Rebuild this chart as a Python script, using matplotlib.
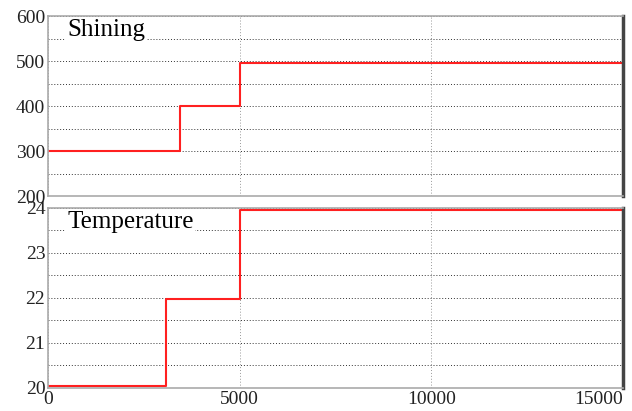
import numpy as np
import matplotlib.pyplot as plt

# step data
shine_t = [0, 3450, 3450, 5000, 5000, 15000]
shine_v = [300, 300, 400, 400, 496, 496]
temp_t = [0, 3080, 3080, 5000, 5000, 15000]
temp_v = [20.04, 20.04, 21.97, 21.97, 23.96, 23.96]

plt.rcParams['font.family'] = ['Liberation Serif', 'DejaVu Serif']

fig = plt.figure(figsize=(6.32, 4.11), dpi=100)
ax1 = fig.add_axes([0.076, 0.523, 0.910, 0.438])
ax2 = fig.add_axes([0.076, 0.056, 0.910, 0.438])

def style(ax, ylim, step, name):
    ax.set_xlim(0, 15000)
    ax.set_ylim(*ylim)
    ax.set_yticks(np.arange(ylim[0], ylim[1] + step * 0.5, step * 2))
    ax.set_yticks(np.arange(ylim[0] + step, ylim[1], step), minor=True)
    ax.set_xticks([0, 5000, 10000, 15000])
    ax.grid(True, which='both', axis='y', linestyle=(0, (1, 2)), color='#333333', linewidth=0.7)
    ax.grid(True, axis='x', linestyle=(0, (1, 2)), color='#999999', linewidth=0.7)
    ax.tick_params(which='both', length=0, labelsize=14, colors='#222222', pad=2)
    for s in ['top', 'left', 'bottom']:
        ax.spines[s].set_color('#aaaaaa')
        ax.spines[s].set_linewidth(1.2)
    ax.spines['right'].set_color('#444444')
    ax.spines['right'].set_linewidth(2.5)
    ax.text(0.033, 0.92, name, transform=ax.transAxes, fontsize=18, va='center',
            ha='left', bbox=dict(facecolor='white', edgecolor='none', pad=1))

style(ax1, (200, 600), 50, 'Shining')
style(ax2, (20, 24), 0.5, 'Temperature')

ax1.plot(shine_t, shine_v, color='#ff2020', linewidth=1.5)
ax2.plot(temp_t, temp_v, color='#ff2020', linewidth=1.5)
ax1.set_xticklabels([])
ax2.get_xticklabels()[-1].set_ha('right')

plt.savefig('out.png', dpi=100)
